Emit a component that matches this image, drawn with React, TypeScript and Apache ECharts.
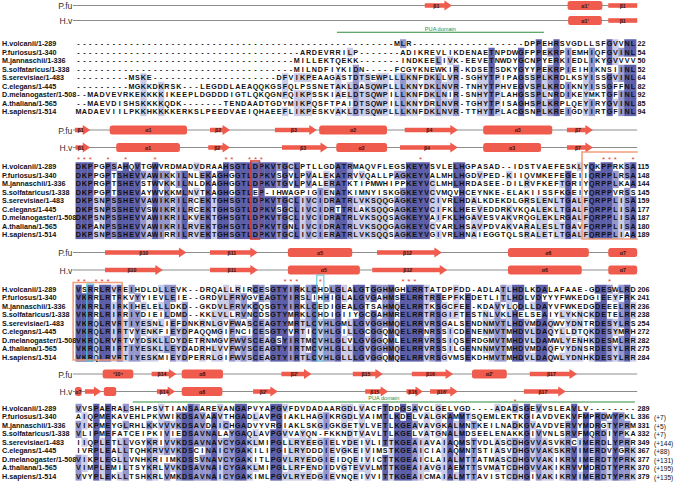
import React, { useEffect, useRef } from "react";
import * as echarts from "echarts";

const W = 675, H = 482;
const X0 = 75.5, CW = 5.9, ROWH = 8.5;
const FONT = '"Liberation Sans", Arial, sans-serif';

const names = ["H.volcanii/1-289", "P.furiosus/1-340", "M.jannaschii/1-336", "S.solfataricus/1-338", "S.serevisiae/1-483", "C.elegans/1-445", "D.melanogaster/1-508", "A.thaliana/1-565", "H.sapiens/1-514"];

const g = (n: number) => "-".repeat(n);

const block1 = [
  g(54) + "MLR" + g(19) + "DPPEHRSVGDLLSFGVVNL",
  g(38) + "ARDEVRRILP" + g(7) + "ADIKREVL" + "IKDENAETNPDWGFPPEKRPIEMHIQFGVINL",
  g(37) + "MILLEKTQEKK" + g(7) + "INDKEELI" + "VK-EEVETNWDYGCNPYERKIEDLIKYGVVVV",
  g(37) + "MILNDFIYKIDN" + g(5) + "FCGYKNEWK" + "IR-KDSETSDKYGYYPEKRPIEIHIKNSIINL",
  g(9) + "MSKE" + g(21) + "DFVIKPEAAGASTDTSEWPLLLKNFDKLL" + "VR-SGHYTPIPAGSSPLKRDLKSYISSGVINL",
  g(9) + "MGKKDKRSK" + g(3) + "LEGD" + "DLAEAQQKGSFQLPSSNETAKLDASQWPLLLKNYDKLN" + "VR-TNHYTPHVEGVSPLKRDIKNYISSGFFNL",
  "--MADVEVRKEKKKKIKEEPLDGDD" + "DIGTLQKQGNFQIKPSSKIAELDTSQWPILLKNFDKLN" + "IR-SNHYTPLAHGSSPLNRDIKEYMKTGFINL",
  "--MAEVDISHSKKKKQDK" + g(7) + "TENDAADTGDYMIKPQSFTPAIDTSQWPILLKNYDRLN" + "VR-TGHYTPISAGHSPLKRPLQEYIRYGVINL",
  "MADAEVIILPKKHKKKKERKSLPEE" + "DVAEIQHAEEFLIKPESKVAKLDTSQWPLLLKNFDKLN" + "VR-TTHYTPLACGSNPLKREIGDYIRTGFINL",
];
const block2 = [
  "DKPPGPSAHQVTGWVRDMADVDRAA" + "HSGTLDPKVTGCLPTLLGDATRMAQVFLEGSKEYVSV" + "LELHGPASAD--IDSTVAEFESKLYQKPPRKSA",
  "DKPPGPTSHEVVAWIKKILNLEKAG" + "HGGTLDPKVSGVLPVALEKATRVVQALLPAGKEYVAL" + "MHLHGDVPED-KIIQVMKEFEGEIIQRPPLRSA",
  "DKPRGPTSHEVSTWVKKILNLDKAG" + "HGGTLDPKVTGVLPVALERATKTIPMWHIPPKEYVCL" + "MHLHRDASEE-DILRVFKEFTGRIYQRPPLKAA",
  "DKPPGPTSHEVAYWVKKMLNVTKAG" + "HGGTLEP-IHWAGPIGIENATKIMNYISKGGKEYVCV" + "MQVHCEYNKE-ELAKIISSFKGEIYQRPPVRSS",
  "DKPSNPSSHEVVAWIKRILRCEKTG" + "HSGTLDPKVTGCLIVCIDRATRLVKSQQGAGKEYVCI" + "VRLHDALKDEKDLGRSLENLTGALFQRPPLISA",
  "DKPSNPSSHEVVSWIKRILRCEKTG" + "HSGTLDPKVSGCLIVCIDRTTRLAKSQQGAGKEYVCI" + "FKLHEEVEDDRKVKQALEKLTGALFQRPPLISA",
  "DKPSNPSSHEVVAWIKRILKVEKTG" + "HSGTLDPKVTGCLIVCIDRATRLVKSQQSAGKEYVAI" + "FKLHGAVESVAKVRQGLEKLRGALFQRPPLISA",
  "DKPANPSSHEVVAWIKRILRVEKTG" + "HSGTLDPKVTGNLIVCIDRATRLVKSQQGAGKEYVCV" + "ARLHSAVPDVAKVARALESLTGAVFQRPPLISA",
  "DKPSNPSSHEVVAWIRRILRVEKTG" + "HSGTLDPKVTGCLIVCIERATRLVKSQQSAGKEYVGI" + "VRLHNAIEGGTQLSRALETLTGALFQRPPLIAA",
];
const block3 = [
  "VSRRLRVREIHDLDLLEVK--DRQA" + "LLRIRCESGTYIRKLCHDLGLALGTGGHMGHLRRTAT" + "DPFDD-ADLATLHDLKDALAFAAE-GDESWLRD",
  "VKRRLRTRKVYYIEVLEIE--GRDV" + "LFRVGVEAGTYIRSLIHHIGLALGVGAHMSELRRTRS" + "EPFKEDETLITLHDLVDYYYFWKEDGIEEYFRK",
  "VKRRLRIRKIHELELLDKD--GKDV" + "LFRVKCQSGTYIRKLCEDIGEALGTSAHMQELRRTKS" + "GCFEE-KDAVYLQDLLDAYVFWKEDGDEEELRR",
  "VKRRLRIRRIYDIEILDMD--KKLV" + "LLRVNCDSGTYMRKLCHDIGIIYGCGAHMRELRRTRS" + "GIFTESTNLVKLHELSEAIYLYKNCKDETELRR",
  "VKRQLRVRTIYESNLIEFDNKRNLG" + "VFWASCEAGTYMRTLCVHLGMLLGVGGHMQELRRVRS" + "GALSENDNMVTLHDVMDAQWVYDNTRDESYLRS",
  "VKRQLRIRTVYENKFIEYDPAQQMG" + "IFNCICESGTYVRTICVHLGILLGCGGQMQELRRNRS" + "SICDENENMVTMHDVLDAQYLLDTQKDESYMRH",
  "VKRQLRVRTVYDSKLLDYDETRNMG" + "VFWVSCEAGSYIRTMCVHLGLVLGVGGQMLELRRVRS" + "SIQSERDGMVTMHDVLDAMWLYENHKDESMLRR",
  "VKRQLRIRTIYESKLLEYDADRHLV" + "VFWVSCEAGTYIRTMCVHLGLLLGVGGHMQELRRVRS" + "SILGENNNMVTMHDVMDAQFVYDNSRDESYLRR",
  "VKRQLRVRTIYESKMIEYDPERRLG" + "IFWVSCEAGTYIRTLCVHLGLLLGVGGQMQELRRVRS" + "GVMSEKDHMVTMHDVLDAQWLYDNHKDESYLRR",
];
const block4 = [
  "VVSPAERALSHLPSVTIANSAAREV" + "ANGAPVYAPGVFDVDADAARGDLVACFTDDGSAVCLG" + "ELVGD----ADADSGEVVSLEAVLV--------",
  "AIQPMEKAVEHLPKVWIKDSAVAAV" + "THGADLAVPGIAKLHAGIKRGDLVAIMTLKDELVALG" + "KAMMTSQEMLEKTKGIAVDVEKVFMPRDWYPKL",
  "VIKPMEYGLRHLKKVVVKDSAVDAI" + "CHGADVYVRGIAKLSKGIGKGETVLVETLKGEAVAVG" + "KALMNTKEILNADKGVAVDVERVYMDRGTYPRM",
  "VLIPMEFATCEIPKIVIEDSAVNAL" + "AYGAQLAVPGVVAYQN-FKKNDTVAVLTLKGELVATG" + "NALMDSEELENAKKGIVVNLSRVFMQRDIYPKA",
  "IIQPLETLLVGYKRIVVKDSAVNAV" + "CYGAKLMIPGLLRYEEGIELYDEIVLITTKGEAIAVA" + "IAQMSTVDLASCDHGVVASVKRCIMERDLYPRR",
  "IVRPLEALLTQHKRVVVKDSCINAI" + "CYGAKILIPGILRYDDDIEVGKEIVIMSTKGEAICIA" + "IAQMNTSTIASVDHGVVAKSKRVIMERDVYGRK",
  "VIKPLEGLLVNHKRIIMKDSSVNAV" + "CYGAKITLPGVLRYEDGIEIDQEIVICTTKGEAICLA" + "IALMTTATMASCDHGVVAKIKRVIMERDTYPRK",
  "VIMPLEMILTSYKRLVVKDSAVNAI" + "CYGAKLMIPGLLRFENDIDVGTEVVLMTTKGEAIAVG" + "IAEMTTSVMATCDHGVVAKIKRVVMDRDTYPRK",
  "VVYPLEKLLTSHKRLVMKDSAVNAI" + "CYGAKIMLPGVLRYEDGIEVNQEIVVITTKGEAICMA" + "IALMTTAVISTCDHGIVAKIKRVIMERDTYPRK",
];

const ends1 = [22, 54, 50, 52, 64, 82, 92, 85, 94];
const ends2 = [115, 148, 144, 145, 159, 177, 187, 180, 189];
const ends3 = [206, 241, 236, 238, 254, 272, 282, 275, 284];
const ends4 = [289, 336, 331, 332, 349, 367, 377, 370, 379];
const extras4 = ["", "(+7)", "(+5)", "(+7)", "(+144)", "(+88)", "(+131)", "(+195)", "(+135)"];

const stars1: number[] = [];
const stars2 = [0, 1, 2, 5, 8, 13, 25, 26, 29, 30, 31, 58, 89, 90, 91, 94];
const stars3 = [0, 1, 3, 4, 5, 35, 36, 37, 41, 55, 56, 57, 90];
const stars4 = [74];

// secondary structure: k = h (helix), a (arrow), b (bar, no head); s/e in alignment columns
type SS = { k: string; s: number; e: number; t: string };
const ssPfu1: SS[] = [{ k: "a", s: 59.2, e: 63.8, t: "β1" }, { k: "h", s: 83.4, e: 89.3, t: "α1'" }, { k: "b", s: 90.3, e: 95.2, t: "β1" }];
const ssHv1: SS[] = [{ k: "h", s: 83.5, e: 89.2, t: "α1'" }, { k: "b", s: 90.3, e: 95.2, t: "β1" }];
const ssPfu2: SS[] = [
  { k: "a", s: -0.1, e: 2.5, t: "β1" }, { k: "h", s: 5.8, e: 18.9, t: "α1" }, { k: "a", s: 22.8, e: 26.2, t: "β2" },
  { k: "a", s: 33.8, e: 40.9, t: "β3" }, { k: "h", s: 41.3, e: 52.8, t: "α2" }, { k: "a", s: 55.8, e: 64.8, t: "β4" },
  { k: "h", s: 69.1, e: 80.8, t: "α3" }, { k: "a", s: 83.3, e: 87.7, t: "β7" },
];
const ssHv2: SS[] = [
  { k: "a", s: 0, e: 2.5, t: "β1" }, { k: "h", s: 6.9, e: 17.7, t: "α1" }, { k: "a", s: 22.5, e: 26.2, t: "β2" },
  { k: "a", s: 35, e: 42.8, t: "β3" }, { k: "h", s: 44.2, e: 52.8, t: "α2" }, { k: "a", s: 55, e: 64.8, t: "β4" },
  { k: "h", s: 69.1, e: 78.9, t: "α3" }, { k: "a", s: 83.3, e: 87.7, t: "β7" },
];
const ssPfu3: SS[] = [
  { k: "a", s: 5, e: 18.8, t: "β10" }, { k: "a", s: 22.8, e: 30.9, t: "β11" }, { k: "h", s: 36, e: 46.9, t: "α5" },
  { k: "a", s: 51.1, e: 62.1, t: "β12" }, { k: "h", s: 73.3, e: 87, t: "α6" }, { k: "h", s: 90.3, e: 95.2, t: "α7" },
];
const ssHv3: SS[] = [
  { k: "a", s: 5, e: 14.8, t: "β10" }, { k: "a", s: 22.8, e: 30.9, t: "β11" }, { k: "h", s: 36, e: 48.2, t: "α5" },
  { k: "a", s: 50.3, e: 63, t: "β12" }, { k: "h", s: 73.3, e: 85.8, t: "α6" }, { k: "h", s: 90.3, e: 95.2, t: "α7" },
];
const ssPfu4: SS[] = [
  { k: "h", s: 4.6, e: 9.8, t: "³10⁴" }, { k: "a", s: 12.9, e: 17.1, t: "β14" }, { k: "h", s: 18, e: 25, t: "α8" },
  { k: "a", s: 34.9, e: 40, t: "β2'" }, { k: "a", s: 47, e: 52.1, t: "β15" }, { k: "a", s: 57, e: 64, t: "β16" },
  { k: "h", s: 67.2, e: 73.1, t: "α2'" }, { k: "a", s: 77, e: 85, t: "β17" },
];
const ssHv4: SS[] = [
  { k: "h", s: -0.1, e: 1.05, t: "α7" }, { k: "a", s: 1.6, e: 4.4, t: "" }, { k: "h", s: 4.8, e: 6.9, t: "" },
  { k: "a", s: 13.8, e: 16.9, t: "β14" }, { k: "h", s: 18, e: 24.9, t: "α8" }, { k: "a", s: 30.1, e: 34.3, t: "β2'" },
  { k: "a", s: 49.1, e: 53, t: "β15" }, { k: "a", s: 56.1, e: 58.9, t: "β16" }, { k: "a", s: 60.1, e: 64.8, t: "β16'" },
  { k: "a", s: 76, e: 83.1, t: "β17" },
];

const puaDomains = [{ b: 0, s: 44.3, e: 79.4 }, { b: 3, s: 9.7, e: 94.8 }];

const blocks = [block1, block2, block3, block4];
const ends = [ends1, ends2, ends3, ends4];
const stars = [stars1, stars2, stars3, stars4];
const ssPfu = [ssPfu1, ssPfu2, ssPfu3, ssPfu4];
const ssHv = [ssHv1, ssHv2, ssHv3, ssHv4];

// layout (pixel rows of each block)
const layout = [
  { pfu: 5.5, hv: 20.5, row0: 43.5, star: 0, pua: 32.3 },
  { pfu: 130, hv: 147.5, row0: 166.5, star: 158, pua: 0 },
  { pfu: 252.5, hv: 270, row0: 289, star: 280, pua: 0 },
  { pfu: 374, hv: 391.5, row0: 408, star: 400, pua: 402 },
];

const boxes = [
  { c0: 29.7, c1: 31.2, y0: 161, y1: 239, color: "#d43a35", w: 1.4, open: false },
  { c0: 85.85, c1: 95.3, y0: 152, y1: 239, color: "#f2a07c", w: 1.6, open: true },
  { c0: -0.4, c1: 7.9, y0: 282.5, y1: 360, color: "#f2a07c", w: 1.6, open: false },
  { c0: 1.9, c1: 3.1, y0: 284, y1: 361, color: "#4cc3d6", w: 1, open: false },
  { c0: 40.9, c1: 42.1, y0: 275, y1: 361, color: "#4cc3d6", w: 1, open: false },
];

const SHADE = ["", "#cbcce7", "#9597cd", "#5d5fa9"];
const SSCOL = "#ef5b4c";

function buildCells() {
  const cells: { col: number; y: number; ch: string; lv: number }[] = [];
  blocks.forEach((blk, b) => {
    const ncol = blk[0].length;
    for (let c = 0; c < ncol; c++) {
      const cnt: Record<string, number> = {};
      blk.forEach((s) => { const ch = s[c]; if (ch && ch !== "-") cnt[ch] = (cnt[ch] || 0) + 1; });
      let m = 0;
      Object.keys(cnt).forEach((k) => { if (cnt[k] > m) m = cnt[k]; });
      const pct = m / blk.length;
      blk.forEach((s, r) => {
        const ch = s[c] || "";
        let lv = 0;
        if (ch !== "-" && ch && cnt[ch] === m) lv = pct > 0.8 ? 3 : pct > 0.6 ? 2 : pct > 0.4 ? 1 : 0;
        cells.push({ col: c, y: layout[b].row0 + r * ROWH, ch, lv });
      });
    }
  });
  return cells;
}

function buildOption() {
  const cells = buildCells();
  const tracks: { y: number; label: string }[] = [];
  const ssEls: (SS & { y: number })[] = [];
  layout.forEach((L, b) => {
    tracks.push({ y: L.pfu, label: "P.fu" }, { y: L.hv, label: "H.v" });
    ssPfu[b].forEach((e) => ssEls.push({ ...e, y: L.pfu }));
    ssHv[b].forEach((e) => ssEls.push({ ...e, y: L.hv }));
  });
  const starList: { c: number; y: number }[] = [];
  stars.forEach((arr, b) => arr.forEach((c) => starList.push({ c, y: layout[b].star })));
  const labels: { y: number; name: string; end: number; extra: string }[] = [];
  blocks.forEach((blk, b) => blk.forEach((_, r) => labels.push({
    y: layout[b].row0 + r * ROWH, name: names[r], end: ends[b][r], extra: b === 3 ? extras4[r] : "",
  })));

  const txt = (x: number, y: number, text: string, o: any = {}) => ({
    type: "text", x, y, silent: true,
    style: { text, fill: o.fill || "#111", fontSize: o.size || 7.2, fontWeight: o.weight || "bold", fontFamily: FONT, align: o.align || "center", verticalAlign: "middle" },
  });

  return {
    animation: false,
    grid: { left: 0, right: 0, top: 0, bottom: 0 },
    xAxis: { type: "value", min: -X0 / CW, max: (W - X0) / CW, show: false },
    yAxis: { type: "value", min: 0, max: H, inverse: true, show: false },
    series: [
      {
        type: "custom", silent: true, data: tracks.map((t) => [-0.45, t.y]),
        renderItem: (p: any, api: any) => {
          const t = tracks[p.dataIndex];
          const a = api.coord([-0.45, t.y]);
          const e = api.coord([95.2, t.y]);
          return {
            type: "group", children: [
              { type: "line", shape: { x1: a[0], y1: a[1], x2: e[0], y2: a[1] }, style: { stroke: "#8c8c8c", lineWidth: 1 } },
              txt(a[0] - 0.5, a[1] + 0.5, t.label, { align: "right", weight: "normal", size: 8.6, fill: "#333" }),
            ],
          };
        },
      },
      {
        type: "custom", silent: true, data: ssEls.map((e) => [e.s, e.y]),
        renderItem: (p: any, api: any) => {
          const el = ssEls[p.dataIndex];
          const a = api.coord([el.s, el.y]);
          const b = api.coord([el.e, el.y]);
          const x0 = a[0], x1 = b[0], y = a[1];
          const ch: any[] = [];
          if (el.k === "h") {
            ch.push({ type: "rect", shape: { x: x0, y: y - 4.5, width: x1 - x0, height: 9, r: 2.5 }, style: { fill: SSCOL } });
          } else if (el.k === "b") {
            ch.push({ type: "rect", shape: { x: x0, y: y - 2.3, width: x1 - x0, height: 4.6 }, style: { fill: SSCOL } });
          } else {
            const hl = Math.min(7.5, (x1 - x0) * 0.55);
            ch.push({
              type: "polygon",
              shape: { points: [[x0, y - 2.3], [x1 - hl, y - 2.3], [x1 - hl, y - 5], [x1, y], [x1 - hl, y + 5], [x1 - hl, y + 2.3], [x0, y + 2.3]] },
              style: { fill: SSCOL },
            });
          }
          if (el.t) ch.push(txt((x0 + x1) / 2 - (el.k === "a" ? 2 : 0), y + 0.3, el.t, { size: 5.2, fill: "#3a1010", weight: "bold" }));
          return { type: "group", children: ch };
        },
      },
      {
        type: "custom", silent: true, data: puaDomains.map((d) => [d.s, layout[d.b].pua]),
        renderItem: (p: any, api: any) => {
          const d = puaDomains[p.dataIndex];
          const y = layout[d.b].pua;
          const a = api.coord([d.s, y]);
          const e = api.coord([d.e, y]);
          return {
            type: "group", children: [
              { type: "line", shape: { x1: a[0], y1: a[1], x2: e[0], y2: a[1] }, style: { stroke: "#2f8a3c", lineWidth: 1.1 } },
              txt((a[0] + e[0]) / 2, a[1] - 3.8, "PUA domain", { size: 5.6, weight: "normal", fill: "#2f8a3c" }),
            ],
          };
        },
      },
      {
        type: "custom", silent: true, data: cells.map((c) => [c.col, c.y]),
        renderItem: (p: any, api: any) => {
          const c = cells[p.dataIndex];
          const a = api.coord([c.col, c.y]);
          const b = api.coord([c.col + 1, c.y]);
          const w = b[0] - a[0];
          const ch: any[] = [];
          if (c.lv > 0) ch.push({ type: "rect", shape: { x: a[0], y: a[1] - ROWH / 2, width: w + 0.35, height: ROWH + 0.35 }, style: { fill: SHADE[c.lv] } });
          ch.push(txt(a[0] + w / 2, a[1] + 0.4, c.ch, { size: 7.2 }));
          return { type: "group", children: ch };
        },
      },
      {
        type: "custom", silent: true, data: boxes.map((bx) => [bx.c0, bx.y0]),
        renderItem: (p: any, api: any) => {
          const bx = boxes[p.dataIndex];
          const a = api.coord([bx.c0, bx.y0]);
          const b = api.coord([bx.c1, bx.y1]);
          if (bx.open) {
            return {
              type: "polyline",
              shape: { points: [[b[0], a[1]], [a[0], a[1]], [a[0], b[1]], [b[0], b[1]]] },
              style: { stroke: bx.color, lineWidth: bx.w, fill: "none" },
            };
          }
          return { type: "rect", shape: { x: a[0], y: a[1], width: b[0] - a[0], height: b[1] - a[1] }, style: { stroke: bx.color, lineWidth: bx.w, fill: "none" } };
        },
      },
      {
        type: "custom", silent: true, data: starList.map((s) => [s.c + 0.5, s.y]),
        renderItem: (p: any, api: any) => {
          const s = starList[p.dataIndex];
          const a = api.coord([s.c + 0.5, s.y]);
          return txt(a[0], a[1] + 1.5, "*", { size: 8, fill: "#e0443a", weight: "normal" });
        },
      },
      {
        type: "custom", silent: true, data: labels.map((l) => [95, l.y]),
        renderItem: (p: any, api: any) => {
          const l = labels[p.dataIndex];
          const a = api.coord([95, l.y]);
          const ch: any[] = [
            txt(2, a[1] + 0.4, l.name, { align: "left", size: 7.2 }),
            txt(a[0] + 1.5, a[1] + 0.4, String(l.end), { align: "left", size: 7.2 }),
          ];
          if (l.extra) ch.push(txt(a[0] + 18, a[1] + 1, l.extra, { align: "left", size: 6.6, weight: "normal" }));
          return { type: "group", children: ch };
        },
      },
    ],
  };
}

export default function App() {
  const ref = useRef<HTMLDivElement>(null);
  useEffect(() => {
    const chart = echarts.init(ref.current as HTMLDivElement, undefined, { renderer: "svg" });
    chart.setOption(buildOption() as any);
    return () => chart.dispose();
  }, []);
  return <div ref={ref} style={{ position: "absolute", left: 0, top: 0, width: W, height: H, background: "#fff" }} />;
}
